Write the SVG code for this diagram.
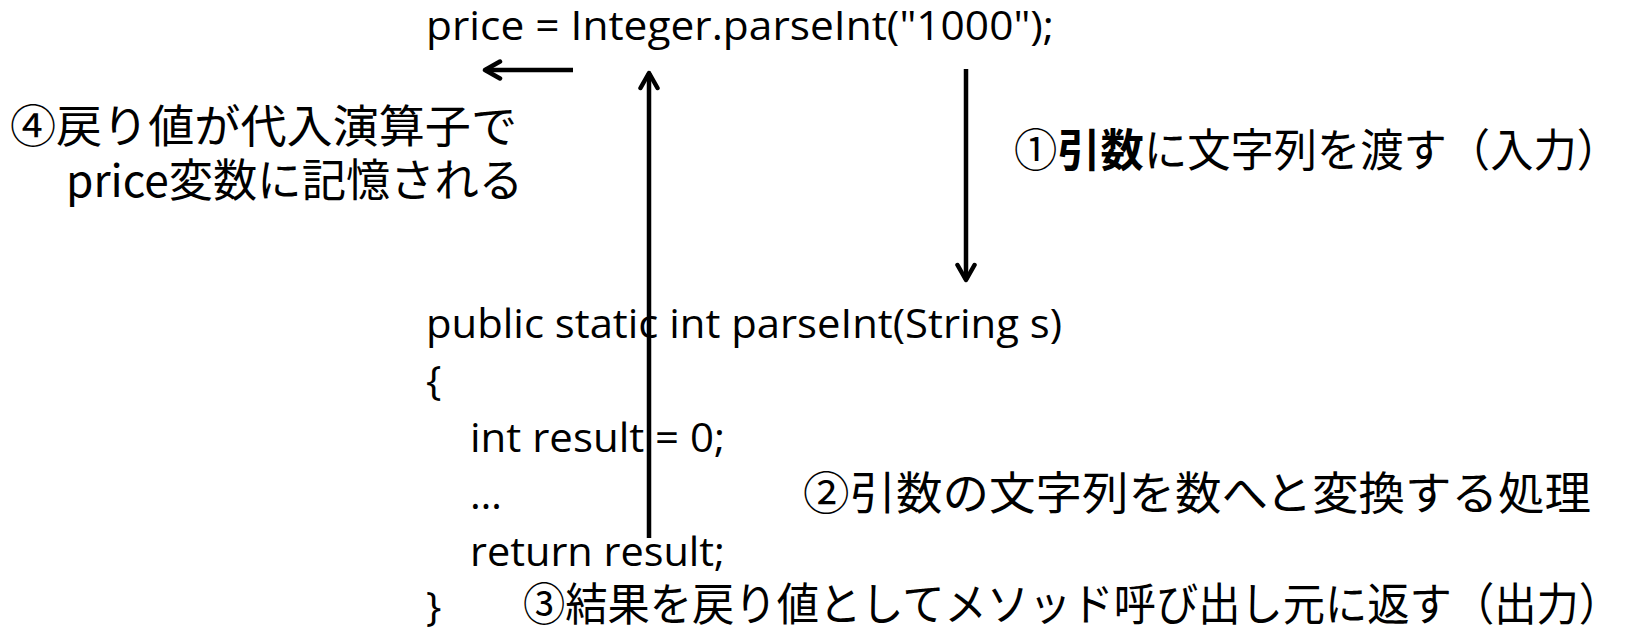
<svg xmlns="http://www.w3.org/2000/svg" width="1639" height="643" viewBox="0 0 1639 643">
<style>
.code{font-family:"Open Sans","Liberation Sans",sans-serif;font-size:41px;fill:#000}
.jp{font-family:"Noto Sans CJK JP","Liberation Sans",sans-serif;font-size:45px;fill:#000}
.b{font-weight:bold}
.conn{stroke:#000;stroke-width:4.5;fill:none}
</style>
<defs>
<marker id="ah" markerUnits="userSpaceOnUse" markerWidth="30" markerHeight="30" refX="18" refY="11" orient="auto">
<path d="M3,2.5 L18,11 L3,19.5" fill="none" stroke="#000" stroke-width="4.5" stroke-linecap="round" stroke-linejoin="round"/>
</marker>
</defs>
<rect width="1639" height="643" fill="#fff"/>
<g id="call">
<text class="code" x="426" y="40" textLength="628" lengthAdjust="spacingAndGlyphs">price = Integer.parseInt("1000");</text>
</g>
<g id="label4">
<text class="jp" x="10" y="143" textLength="507" lengthAdjust="spacingAndGlyphs">④戻り値が代入演算子で</text>
<text class="jp" x="66" y="197" textLength="457" lengthAdjust="spacingAndGlyphs">price変数に記憶される</text>
</g>
<g id="label1">
<text class="jp" x="1014" y="167" textLength="606" lengthAdjust="spacingAndGlyphs">①<tspan class="b">引数</tspan>に文字列を渡す（入力）</text>
</g>
<g id="method">
<text class="code" x="426" y="338" textLength="636" lengthAdjust="spacingAndGlyphs">public static int parseInt(String s)</text>
<text class="code" x="426" y="395">{</text>
<text class="code" x="470" y="452" textLength="255" lengthAdjust="spacingAndGlyphs">int result = 0;</text>
<text class="code" x="470" y="509">…</text>
<text class="code" x="470" y="566" textLength="255" lengthAdjust="spacingAndGlyphs">return result;</text>
<text class="code" x="426" y="621">}</text>
</g>
<g id="label2">
<text class="jp" x="803" y="510" textLength="788" lengthAdjust="spacingAndGlyphs">②引数の文字列を数へと変換する処理</text>
</g>
<g id="label3">
<text class="jp" x="523" y="621" textLength="1098" lengthAdjust="spacingAndGlyphs">③結果を戻り値としてメソッド呼び出し元に返す（出力）</text>
</g>
<g id="connectors">
<line class="conn" x1="573" y1="70" x2="485" y2="70" marker-end="url(#ah)"/>
<line class="conn" x1="649" y1="538" x2="649" y2="73" marker-end="url(#ah)"/>
<line class="conn" x1="966" y1="69" x2="966" y2="280" marker-end="url(#ah)"/>
</g>
</svg>
